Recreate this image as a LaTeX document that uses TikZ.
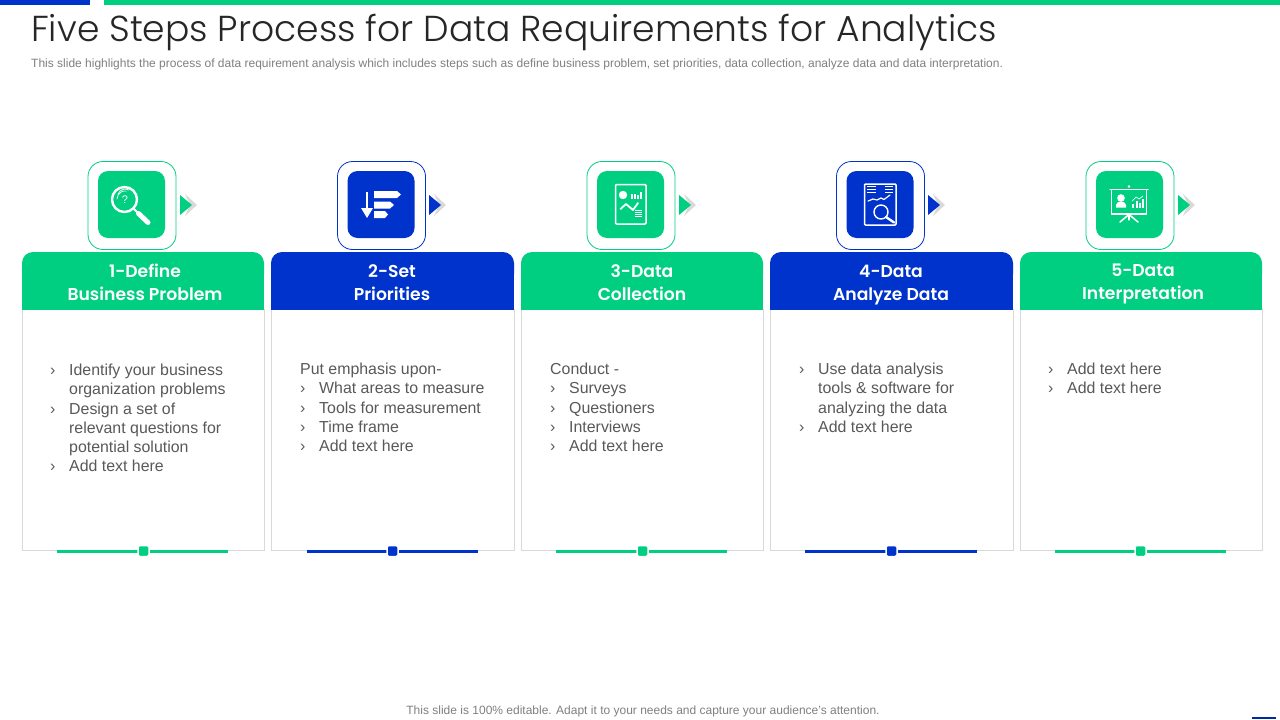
\documentclass[tikz,border=0pt]{standalone}
\usepackage{fontspec}
\setmainfont{Liberation Sans}
\newfontfamily\titlef{Poppins Light}
\newfontfamily\headf{Poppins SemiBold}
\definecolor{grn}{HTML}{00CF82}
\definecolor{blu}{HTML}{0033CC}
\definecolor{bodyc}{HTML}{595959}
\definecolor{subc}{HTML}{808080}
\definecolor{edgec}{HTML}{D9D9D9}
\newcommand{\bl}[1]{\makebox[19pt][l]{›}#1}
\newcommand{\cn}[1]{\hspace*{19pt}#1}
\tikzset{
 x=1pt,y=-1pt,
 card/.style={draw=edgec,line width=0.9pt,fill=white,minimum width=#1,minimum height=241pt,inner sep=0pt,outer sep=0pt,anchor=north west},
 ring/.style={draw=#1,fill=white,line width=0.8pt,rounded corners=15pt,minimum width=88pt,minimum height=88pt,inner sep=0pt},
 tile/.style={fill=#1,rounded corners=10pt,minimum width=67pt,minimum height=67pt,inner sep=0pt},
 headt/.style={text=white,align=center,font=\headf\fontsize{17.2}{23}\selectfont,inner sep=0pt},
 bodyt/.style={text=bodyc,align=left,anchor=north west,inner sep=0pt,font=\fontsize{15.9}{19.2}\selectfont},
 ic/.style={draw=white,line width=1.5pt,line cap=round,line join=round},
 pipe/.style={fill=#1,minimum width=11pt,minimum height=11pt,inner sep=0pt,rounded corners=1.5pt},
}
\newcommand{\hdr}[3]{% x w color
 \fill[#3,rounded corners=11pt] (#1,252) rectangle (#1+#2,285);
 \fill[#3] (#1,270) rectangle (#1+#2,310);
}
\newcommand{\chev}[2]{% x color
 \fill[edgec] (#1+5,194) -- (#1+17,205) -- (#1+5,216) -- (#1+10,205) -- cycle;
 \fill[#2] (#1,195) -- (#1+12,205) -- (#1,215) -- cycle;
}
\begin{document}
\begin{tikzpicture}
\useasboundingbox (0,0) rectangle (1280,720);
\fill[white] (0,0) rectangle (1280,720);
\fill[blu] (0,0) rectangle (90,5);
\fill[grn] (104,0) rectangle (1280,5);
\fill[blu!80!black] (1252,717) rectangle (1276,719);
\node[anchor=west,inner sep=0pt,text=black!85] (title) at (31,32) {\titlef\fontsize{36.1}{40}\selectfont Five Steps Process for Data Requirements for Analytics};
\node[anchor=west,inner sep=0pt,text=subc] (subtitle) at (31,64) {\fontsize{12}{14}\selectfont This slide highlights the process of data requirement analysis which includes steps such as define business problem, set priorities, data collection, analyze data and data interpretation.};
\node[anchor=center,inner sep=0pt,text=subc] (footer) at (643,711) {\fontsize{12}{14}\selectfont This slide is 100\% editable. Adapt it to your needs and capture your audience's attention.};
% cards
\node[card=241.5pt] (c1) at (22.5,309) {};
\node[card=242.5pt] (c2) at (271.5,309) {};
\node[card=241.5pt] (c3) at (521.5,309) {};
\node[card=242.5pt] (c4) at (770.5,309) {};
\node[card=241.5pt] (c5) at (1020.5,309) {};
\hdr{22}{242}{grn}
\hdr{271}{243}{blu}
\hdr{521}{242}{grn}
\hdr{770}{243}{blu}
\hdr{1020}{242}{grn}
\node[headt] (t1) at (145,282.5) {1-Define\\Business Problem};
\node[headt] (t2) at (392,282.5) {2-Set\\Priorities};
\node[headt] (t3) at (642,282.5) {3-Data\\Collection};
\node[headt] (t4) at (891,285) {4-Data\\Analyze Data};
\node[headt] (t5) at (1143,284) {5-Data\\Interpretation};
% bodies
\node[bodyt] (b1) at (50,364) {\bl{Identify your business}\\\cn{organization problems}\\\bl{Design a set of}\\\cn{relevant questions for}\\\cn{potential solution}\\\bl{Add text here}};
\node[bodyt] (b2) at (300,363) {Put emphasis upon-\\\bl{What areas to measure}\\\bl{Tools for measurement}\\\bl{Time frame}\\\bl{Add text here}};
\node[bodyt] (b3) at (550,363) {Conduct -\\\bl{Surveys}\\\bl{Questioners}\\\bl{Interviews}\\\bl{Add text here}};
\node[bodyt] (b4) at (799,363) {\bl{Use data analysis}\\\cn{tools \& software for}\\\cn{analyzing the data}\\\bl{Add text here}};
\node[bodyt] (b5) at (1048,363) {\bl{Add text here}\\\bl{Add text here}};
% bottom bars
\fill[grn] (57,549.5) rectangle (228,552.5);
\fill[blu] (307,549.5) rectangle (478,552.5);
\fill[grn] (556,549.5) rectangle (727,552.5);
\fill[blu] (805,549.5) rectangle (977,552.5);
\fill[grn] (1055,549.5) rectangle (1226,552.5);
\foreach \n/\x/\c in {1/143.5/grn,2/392.5/blu,3/642.5/grn,4/891.5/blu,5/1140.5/grn}{
 \node[pipe=\c,draw=white,line width=1.5pt] (p\n) at (\x,551) {};
}
% icon frames
\node[ring=grn] (r1) at (132,205.5) {};
\node[ring=blu] (r2) at (381.5,205.5) {};
\node[ring=grn] (r3) at (631,205.5) {};
\node[ring=blu] (r4) at (880.5,205.5) {};
\node[ring=grn] (r5) at (1130,205.5) {};
\node[tile=grn] (i1) at (131.5,204.5) {};
\node[tile=blu] (i2) at (381,204.5) {};
\node[tile=grn] (i3) at (630.5,204.5) {};
\node[tile=blu] (i4) at (880,204.5) {};
\node[tile=grn] (i5) at (1129.5,204.5) {};
\chev{180}{grn}
\chev{429}{blu}
\chev{679}{grn}
\chev{928}{blu}
\chev{1178}{grn}
% icon 1: magnifier with question mark
\draw[ic,line width=2.4pt] (124.5,199.5) circle (12.5);
\draw[ic,line width=0.7pt] (117,199) arc (180:280:8);
\draw[ic,line width=0.7pt] (118,194) arc (200:300:7.5);
\node[inner sep=0pt,text=white] (q1) at (125,199.5) {\fontsize{11}{11}\selectfont ?};
\draw[ic,line width=2pt] (134,209) -- (138,213);
\draw[ic,line width=5pt] (138.5,213.5) -- (148,222.5);
% icon 2: sort list
\draw[ic,line width=2.5pt,line cap=butt] (367,192) -- (367,209);
\fill[white] (361,208) -- (373,208) -- (367,218) -- cycle;
\fill[white] (374,191) -- (397,191) -- (401,194.5) -- (397,198) -- (374,198) -- cycle;
\fill[white] (374,201.5) -- (390,201.5) -- (394,205) -- (390,208.5) -- (374,208.5) -- cycle;
\fill[white] (374,211) -- (385,211) -- (388,214.5) -- (385,218) -- (374,218) -- cycle;
% icon 3: report page
\draw[ic,rounded corners=1pt] (615.5,184.5) rectangle (646,224);
\fill[white] (623,195) circle (4.2);
\fill[white] (631,194) rectangle (632.8,198.5);
\fill[white] (634,193.5) rectangle (635.8,198.5);
\fill[white] (637,194.5) rectangle (638.8,198.5);
\fill[white] (640,192) rectangle (641.8,198.5);
\draw[ic,line width=1.8pt] (620.5,209) -- (626,204) -- (633,210) -- (638,203);
\foreach \yy in {210.5,212.5,214.5,216.5}{\draw[white,line width=0.8pt] (635,\yy) -- (642,\yy);}
% icon 4: page with magnifier
\draw[ic,rounded corners=1pt] (864.5,184) rectangle (896,225);
\foreach \yy in {186.5,189.5,192.5}{\draw[white,line width=1.2pt] (867,\yy) -- (876,\yy);\draw[white,line width=1.2pt] (885,\yy) -- (893,\yy);}
\draw[ic,line width=1.2pt] (868,201) -- (873,199) -- (877,200) -- (881,198) -- (884,199.5) -- (890,195);
\draw[ic,line width=1.4pt,fill=blu] (881,212) circle (7);
\draw[ic,line width=2.4pt] (886,217) -- (894,222.5);
% icon 5: presentation board
\draw[ic] (1110,189.5) -- (1148,189.5);
\draw[ic] (1111.5,189.5) rectangle (1146.5,214);
\fill[white] (1129,186.5) circle (1.4);
\draw[ic] (1120,222) -- (1129,214.5) -- (1138,222);
\draw[ic,line width=1.2pt] (1129,214.5) -- (1129,220);
\fill[white] (1121,198) circle (3.8);
\fill[white] (1116,207.5) -- (1116,205) arc (180:360:5 and 3.5) -- (1126,207.5) -- cycle;
\fill[white] (1132,204) rectangle (1134.2,207.5);
\fill[white] (1135.5,201) rectangle (1137.7,207.5);
\fill[white] (1139,203) rectangle (1141.2,207.5);
\fill[white] (1142,199) rectangle (1144.2,207.5);
\draw[white,line width=0.7pt] (1132,201) -- (1136,197) -- (1139,199) -- (1143,196);
\end{tikzpicture}
\end{document}
